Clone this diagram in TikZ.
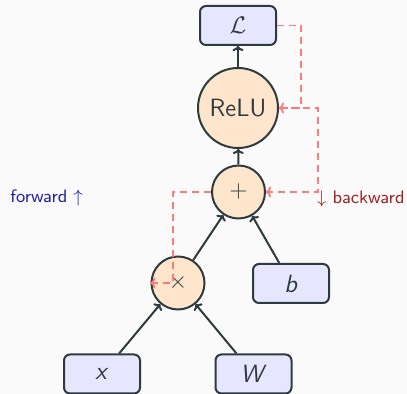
\documentclass[tikz,border=0pt]{standalone}
\usetikzlibrary{arrows.meta}
\definecolor{ink}{HTML}{2E3B3E}
\definecolor{opfill}{HTML}{FFE5CC}
\definecolor{varfill}{HTML}{E6E6FF}
\definecolor{grad}{HTML}{FF7A7A}
\definecolor{fwd}{HTML}{1F1FA0}
\definecolor{bwd}{HTML}{A01F1F}
\definecolor{bg}{HTML}{FAFAFA}
\begin{document}
\begin{tikzpicture}[x=0.5pt,y=-0.5pt,
  op/.style={circle,draw=ink,fill=opfill,text=ink,line width=1pt,inner sep=0pt,
    font=\sffamily\fontsize{12.5}{14}\selectfont},
  var/.style={rectangle,rounded corners=3pt,draw=ink,fill=varfill,text=ink,line width=1pt,
    minimum width=38pt,minimum height=19.5pt,inner sep=0pt,
    font=\sffamily\fontsize{12.5}{14}\selectfont},
  fw/.style={draw=ink,line width=1pt,-{To[length=2.5pt,width=5.5pt]}},
  bw/.style={draw=grad,line width=0.9pt,dash pattern=on 3.5pt off 2.5pt,
    -{To[length=2.5pt,width=5.5pt]}},
  lbl/.style={font=\sffamily\fontsize{9}{11}\selectfont,inner sep=0pt}]
  \fill[bg] (0,0) rectangle (407,394);
  \useasboundingbox (0,0) rectangle (407,394);

  % computation graph
  \node[var] (L) at (238,25.5) {$\mathcal{L}$};
  \node[op,minimum size=40pt,font=\sffamily\fontsize{12.5}{15}\selectfont] (relu) at (238,108) {ReLU};
  \node[op,minimum size=26.5pt] (plus) at (238.5,192) {$+$};
  \node[op,minimum size=26.5pt] (times) at (178,283) {$\times$};
  \node[var] (b) at (291,283.5) {\textit{b}};
  \node[var] (x) at (102,374) {\textit{x}};
  \node[var] (W) at (253.5,374) {\textit{W}};

  % forward pass
  \draw[fw] (x) -- (times);
  \draw[fw] (W) -- (times);
  \draw[fw] (times) -- (plus);
  \draw[fw] (b) -- (plus);
  \draw[fw] (plus) -- (relu);
  \draw[fw] (relu) -- (L);

  % backward pass
  \draw[bw] (L.east) -- ++(12pt,0) |- (relu.east);
  \draw[bw] (relu.east) -- ++(19.5pt,0) |- (plus.east);
  \draw[bw] (plus.west) -| ([xshift=-2.5pt]times.center) -- (times.west);

  % direction labels
  \node[lbl,text=fwd,anchor=west] (fwdlbl) at (10,198) {forward $\uparrow$};
  \node[lbl,text=bwd,anchor=east] (bwdlbl) at (405,199) {$\downarrow$ backward};
\end{tikzpicture}
\end{document}
